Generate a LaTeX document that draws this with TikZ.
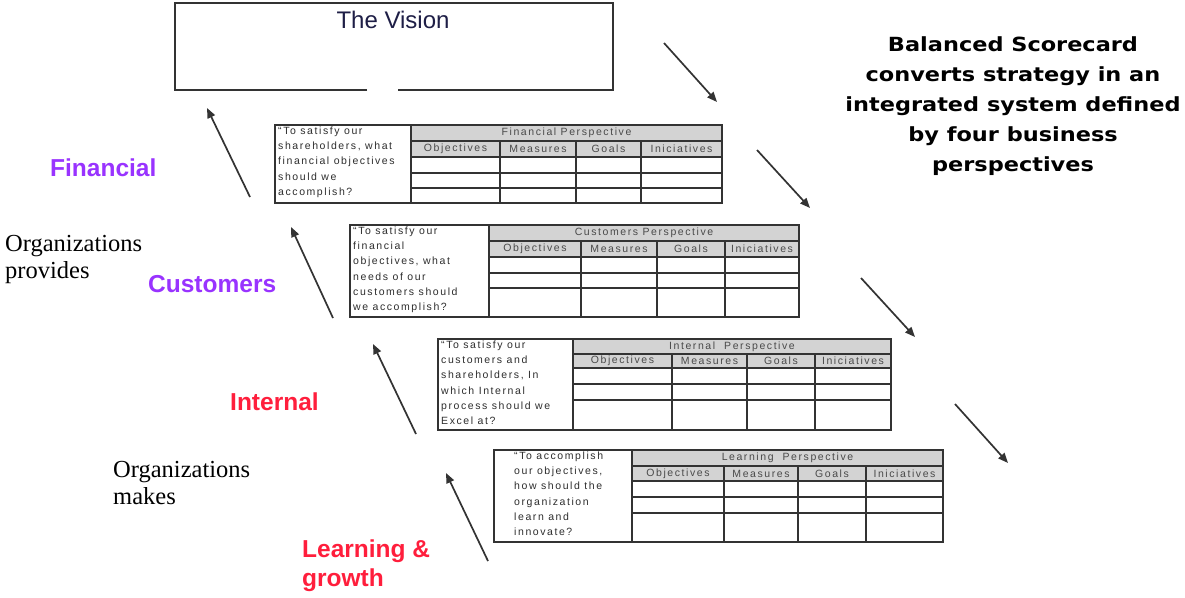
\documentclass[tikz,border=0pt]{standalone}
\usepackage{fontspec}
\usetikzlibrary{arrows.meta}
\setmainfont{Liberation Serif}
\newfontfamily\arialfont{Liberation Sans}
\newfontfamily\cellfont{Liberation Sans}[LetterSpace=15]
\newfontfamily\headfont{DejaVu Sans}[FakeStretch=1.15]

\definecolor{linegray}{HTML}{333333}
\definecolor{hdrfill}{HTML}{D3D3D3}
\definecolor{hdrtext}{HTML}{4A4A4A}
\definecolor{qtext}{HTML}{2E2E2E}
\definecolor{violetlbl}{HTML}{9933FF}
\definecolor{redlbl}{HTML}{FF1E3C}
\definecolor{visiontext}{HTML}{1E1E46}

\tikzset{
  gridline/.style={draw=linegray, line width=1.2pt},
  frameline/.style={draw=linegray, line width=1.7pt},
  tabletitle/.style={font=\cellfont\fontsize{10.5}{11}\selectfont, text=hdrtext, inner sep=0pt},
  colhead/.style={font=\cellfont\fontsize{10.5}{11}\selectfont, text=hdrtext, inner sep=0pt},
  question/.style={font=\cellfont\fontsize{10.5}{15.3}\selectfont, text=qtext, inner sep=0pt,
                   align=left, anchor=north west},
  perspective/.style={font=\arialfont\bfseries\fontsize{24.5}{28.5}\selectfont, align=left,
                      anchor=base west, inner sep=0pt},
  orgnote/.style={font=\fontsize{24.5}{27}\selectfont, align=left, anchor=base west, inner sep=0pt},
  flow/.style={draw=linegray, line width=1.7pt, -{Triangle[length=10pt,width=8pt]}},
}

% x positions: left, question|data, three inner column splits, right
\def\setxs#1,#2,#3,#4,#5,#6\relax{\def\xL{#1}\def\xQ{#2}\def\xA{#3}\def\xB{#4}\def\xC{#5}\def\xR{#6}}
% y positions: top, title|heads, heads|rows, two row splits, bottom
\def\setys#1,#2,#3,#4,#5,#6\relax{\def\yT{#1}\def\yH{#2}\def\yS{#3}\def\yA{#4}\def\yB{#5}\def\yE{#6}}

% one perspective table: #1 name, #2 x list, #3 y list, #4 title, #5 question, #6 inset of the question
\newcommand\scorecard[6]{%
  \setxs#2\relax \setys#3\relax
  \fill[hdrfill] (\xQ,\yT) rectangle (\xR,\yS);
  \draw[gridline] (\xQ,\yH) -- (\xR,\yH)
                  (\xQ,\yS) -- (\xR,\yS)
                  (\xQ,\yA) -- (\xR,\yA)
                  (\xQ,\yB) -- (\xR,\yB)
                  (\xA,\yH) -- (\xA,\yE)
                  (\xB,\yH) -- (\xB,\yE)
                  (\xC,\yH) -- (\xC,\yE)
                  (\xQ,\yT) -- (\xQ,\yE);
  \draw[frameline] (\xL,\yT) rectangle (\xR,\yE);
  \node[tabletitle] (#1-title) at ({(\xQ+\xR)/2},{(\yT+\yH)/2}) {#4};
  \node[colhead] (#1-obj) at ({(\xQ+\xA)/2},{(\yH+\yS)/2}) {Objectives};
  \node[colhead] (#1-mea) at ({(\xA+\xB)/2},{(\yH+\yS)/2}) {Measures};
  \node[colhead] (#1-goa) at ({(\xB+\xC)/2},{(\yH+\yS)/2}) {Goals};
  \node[colhead] (#1-ini) at ({(\xC+\xR)/2},{(\yH+\yS)/2}) {Iniciatives};
  \node[question] (#1-q) at ({\xL+#6},{\yT+1.5}) {#5};
}

\begin{document}
\begin{tikzpicture}[x=1pt, y=-1pt]
  \useasboundingbox (0,0) rectangle (1185,597);
  \fill[white] (0,0) rectangle (1185,597);

  % the vision box, open at the bottom
  \node[minimum width=438pt, minimum height=87pt, inner sep=0pt] (vision) at (394,46.5) {};
  \draw[frameline, line width=1.8pt]
    ([xshift=-27pt]vision.south) -- (vision.south west) -- (vision.north west)
    -- (vision.north east) -- (vision.south east) -- ([xshift=4pt]vision.south);
  \node[font=\arialfont\fontsize{24}{26}\selectfont, text=visiontext, anchor=base, inner sep=0pt]
    (visiontitle) at (393,28.5) {The Vision};

  % headline
  \node[font=\headfont\bfseries\fontsize{19.5}{30}\selectfont, align=center, anchor=north,
        inner sep=0pt] (headline) at (1013,36)
    {Balanced Scorecard\\ converts strategy in an\\ integrated system defined\\
     by four business\\ perspectives};

  % the four perspective tables
  \scorecard{fin}{275,411,500,576,641,722}{125,141,157,173,188,203}
    {Financial Perspective}
    {“To satisfy our\\ shareholders, what\\ financial objectives\\ should we\\ accomplish?}{3}
  \scorecard{cus}{350,489,581,657,725,799}{225,241,257,273,288,317}
    {Customers Perspective}
    {“To satisfy our\\ financial\\ objectives, what\\ needs of our\\ customers should\\ we accomplish?}{3}
  \scorecard{int}{438,573,672,747,815,891}{339,354,368,384,400,430}
    {Internal\ \ Perspective}
    {“To satisfy our\\ customers and\\ shareholders, In\\ which Internal\\ process should we\\ Excel at?}{3}
  \scorecard{lea}{494,632,724,798,866,943}{450,466,481,497,513,542}
    {Learning\ \ Perspective}
    {“To accomplish\\ our objectives,\\ how should the\\ organization\\ learn and\\ innovate?}{20}

  % perspective labels (a multi-line label sits on the baseline of its last line)
  \node[perspective, text=violetlbl] (lblfin) at (50,176) {Financial};
  \node[perspective, text=violetlbl] (lblcus) at (148,292) {Customers};
  \node[perspective, text=redlbl] (lblint) at (230,410) {Internal};
  \node[perspective, text=redlbl] (lbllea) at (302,586) {Learning \&\\ growth};

  \node[orgnote] (orgprov) at (5,278) {Organizations\\ provides};
  \node[orgnote] (orgmake) at (113,504) {Organizations\\ makes};

  % upward chain on the left
  \coordinate (u1s) at (250,197); \coordinate (u1e) at (207,108);
  \coordinate (u2s) at (333,318); \coordinate (u2e) at (291,227);
  \coordinate (u3s) at (416,434); \coordinate (u3e) at (373,344);
  \coordinate (u4s) at (488,561); \coordinate (u4e) at (446,473);
  \draw[flow] (u1s) -- (u1e);
  \draw[flow] (u2s) -- (u2e);
  \draw[flow] (u3s) -- (u3e);
  \draw[flow] (u4s) -- (u4e);

  % downward chain on the right
  \coordinate (d1s) at (664,43);  \coordinate (d1e) at (717,102);
  \coordinate (d2s) at (757,150); \coordinate (d2e) at (810,208);
  \coordinate (d3s) at (861,278); \coordinate (d3e) at (915,337);
  \coordinate (d4s) at (955,404); \coordinate (d4e) at (1008,463);
  \draw[flow] (d1s) -- (d1e);
  \draw[flow] (d2s) -- (d2e);
  \draw[flow] (d3s) -- (d3e);
  \draw[flow] (d4s) -- (d4e);
\end{tikzpicture}
\end{document}
